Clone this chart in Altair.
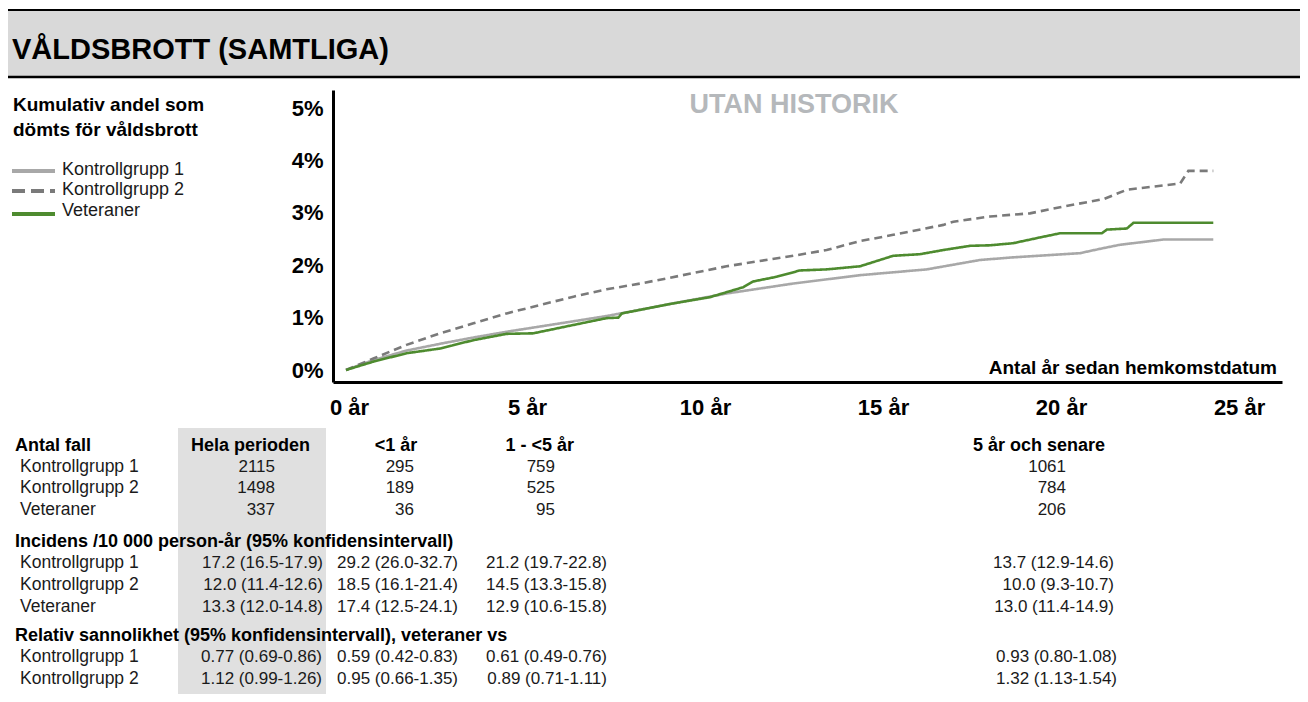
import altair as alt
import pandas as pd

# ---------------- data ----------------
groups = ["Kontrollgrupp 1", "Kontrollgrupp 2", "Veteraner"]
colors = ["#a8a8a8", "#7a7a7a", "#4e8b2f"]

k1_years = [0, 0.77, 1.70, 2.64, 3.58, 4.51, 5.45, 6.39, 7.32, 8.26, 9.1, 10.69, 12.56, 14.44, 16.31,
            17.81, 18.74, 20.62, 21.09, 21.74, 22.96, 24.36]
k1_pct = [0, 0.19, 0.37, 0.50, 0.62, 0.73, 0.83, 0.93, 1.03, 1.15, 1.26, 1.46, 1.65, 1.81, 1.92,
          2.10, 2.15, 2.23, 2.30, 2.39, 2.49, 2.49]

k2_years = [0, 0.77, 1.70, 2.64, 3.58, 4.51, 5.45, 6.39, 7.32, 8.26, 9.1, 10.69, 12.56, 13.5, 14.44,
            15.37, 16.78, 17.06, 18.09, 19.21, 20.15, 21.27, 21.93, 23.43, 23.66, 24.36]
k2_pct = [0, 0.22, 0.48, 0.70, 0.89, 1.08, 1.24, 1.40, 1.54, 1.65, 1.76, 1.98, 2.18, 2.29, 2.46,
          2.58, 2.77, 2.83, 2.93, 2.99, 3.12, 3.26, 3.44, 3.56, 3.80, 3.80]

vet_years = [0, 0.77, 1.70, 2.64, 3.58, 4.51, 5.26, 6.39, 7.32, 7.65, 7.75, 9.1, 10.22, 11.16, 11.44,
             12.1, 12.75, 13.5, 14.44, 15.37, 16.12, 16.78, 17.53, 18.09, 18.74, 19.49, 20.06, 21.23,
             21.37, 21.93, 22.12, 24.36]
vet_pct = [0, 0.16, 0.32, 0.41, 0.57, 0.69, 0.70, 0.86, 0.99, 1.00, 1.08, 1.26, 1.39, 1.58, 1.69,
           1.78, 1.90, 1.92, 1.98, 2.18, 2.21, 2.29, 2.37, 2.38, 2.42, 2.53, 2.61, 2.61,
           2.68, 2.70, 2.81, 2.81]

x_ticks = [0, 5, 10, 15, 20, 25]
y_ticks = [0, 1, 2, 3, 4, 5]

title_text = "VÅLDSBROTT (SAMTLIGA)"
subtitle_text = "UTAN HISTORIK"
x_title = "Antal år sedan hemkomstdatum"
legend_title = ["Kumulativ andel som", "dömts för våldsbrott"]

col_headers = ["Hela perioden", "<1 år", "1 - <5 år", "5 år och senare"]
section_titles = ["Antal fall",
                  "Incidens /10 000 person-år (95% konfidensintervall)",
                  "Relativ sannolikhet (95% konfidensintervall), veteraner vs"]
rows_counts = ["Kontrollgrupp 1", "Kontrollgrupp 2", "Veteraner"]
counts = [["2115", "295", "759", "1061"],
          ["1498", "189", "525", "784"],
          ["337", "36", "95", "206"]]
rows_inc = ["Kontrollgrupp 1", "Kontrollgrupp 2", "Veteraner"]
incidens = [["17.2 (16.5-17.9)", "29.2 (26.0-32.7)", "21.2 (19.7-22.8)", "13.7 (12.9-14.6)"],
            ["12.0 (11.4-12.6)", "18.5 (16.1-21.4)", "14.5 (13.3-15.8)", "10.0 (9.3-10.7)"],
            ["13.3 (12.0-14.8)", "17.4 (12.5-24.1)", "12.9 (10.6-15.8)", "13.0 (11.4-14.9)"]]
rows_rr = ["Kontrollgrupp 1", "Kontrollgrupp 2"]
relativ = [["0.77 (0.69-0.86)", "0.59 (0.42-0.83)", "0.61 (0.49-0.76)", "0.93 (0.80-1.08)"],
           ["1.12 (0.99-1.26)", "0.95 (0.66-1.35)", "0.89 (0.71-1.11)", "1.32 (1.13-1.54)"]]

# ---------------- layout (page pixels) ----------------
FONT = "Liberation Sans"
OX, OY = 333, 90          # plot origin on the page
W, H = 949, 292           # plot area
PAD = {"left": OX - 8, "top": OY - 8, "right": 1292 - (OX - 8) - W, "bottom": 686 - (OY - 8) - H}
X_DOM = [-0.365, 26.29]
Y_DOM = [-0.229, 5.344]


def one():
    return pd.DataFrame({"k": [0]})


def texts(items, **kw):
    df = pd.DataFrame(items, columns=["text", "px", "py"])
    df["x"] = df["px"] - OX
    df["y"] = df["py"] - OY
    params = dict(font=FONT, color="#000000")
    params.update(kw)
    return alt.Chart(df).mark_text(**params).encode(
        x=alt.X("x:Q", scale=None, axis=None),
        y=alt.Y("y:Q", scale=None, axis=None),
        text="text:N",
    )


def rect(x1, x2, y1, y2, color):
    return alt.Chart(one()).mark_rect(color=color).encode(
        x=alt.value(x1 - OX), x2=alt.value(x2 - OX),
        y=alt.value(y1 - OY), y2=alt.value(y2 - OY))


def hrule(x1, x2, y, color, width, dash=None):
    kw = dict(color=color, strokeWidth=width)
    if dash:
        kw["strokeDash"] = dash
    return alt.Chart(one()).mark_rule(**kw).encode(
        x=alt.value(x1 - OX), x2=alt.value(x2 - OX), y=alt.value(y - OY))


# ---------------- lines ----------------
frames = []
for g, xs, ys in [(groups[0], k1_years, k1_pct), (groups[1], k2_years, k2_pct), (groups[2], vet_years, vet_pct)]:
    frames.append(pd.DataFrame({"year": xs, "pct": ys, "group": g}))
df_lines = pd.concat(frames, ignore_index=True)

lines = alt.Chart(df_lines).mark_line(strokeWidth=2.6).encode(
    x=alt.X("year:Q", scale=alt.Scale(domain=X_DOM, nice=False, zero=False),
            axis=alt.Axis(values=x_ticks, labelExpr="datum.value + ' år'", title=None,
                          grid=False, ticks=False, tickSize=0, domainColor="#000000", domainWidth=3,
                          labelFont=FONT, labelFontSize=22, labelFontWeight="bold", labelColor="#000000",
                          labelPadding=15, labelOffset=3, labelFlush=False, labelOverlap=False)),
    y=alt.Y("pct:Q", scale=alt.Scale(domain=Y_DOM, nice=False, zero=False),
            axis=alt.Axis(values=y_ticks, labelExpr="datum.value + '%'", title=None,
                          grid=False, ticks=False, tickSize=0, domainColor="#000000", domainWidth=3,
                          labelFont=FONT, labelFontSize=22, labelFontWeight="bold", labelColor="#000000",
                          labelPadding=10, labelFlush=False, labelOverlap=False)),
    color=alt.Color("group:N", scale=alt.Scale(domain=groups, range=colors), legend=None),
    strokeDash=alt.StrokeDash("group:N", scale=alt.Scale(domain=groups, range=[[1, 0], [8, 5], [1, 0]]), legend=None),
)

# ---------------- header ----------------
header_band = rect(8, 1300, 10, 77, "#d9d9d9")
header_top = hrule(8, 1300, 10, "#000000", 2)
header_bot = hrule(8, 1300, 77, "#000000", 2.5)
title = texts([(title_text, 12, 59)], align="left", baseline="alphabetic", fontSize=29, fontWeight="bold")

subtitle = texts([(subtitle_text, 794, 113)], align="center", baseline="alphabetic",
                 fontSize=27, fontWeight="bold", color="#b5b8bb")
xtitle = texts([(x_title, 1277, 374)], align="right", baseline="alphabetic", fontSize=19, fontWeight="bold")

# ---------------- legend ----------------
leg_title = texts([(legend_title[0], 13, 111), (legend_title[1], 13, 136)],
                  align="left", baseline="alphabetic", fontSize=19, fontWeight="bold")
leg_y_lines = [171, 191, 214]
leg_y_text = [170, 190, 211]
leg_rules = [
    hrule(12, 55, leg_y_lines[0], colors[0], 4),
    hrule(12, 55, leg_y_lines[1], colors[1], 4, dash=[13, 6]),
    hrule(12, 55, leg_y_lines[2], colors[2], 4),
]
leg_labels = texts([(g, 62, y) for g, y in zip(groups, leg_y_text)],
                   align="left", baseline="middle", fontSize=18, color="#1a1a1a")

# ---------------- table ----------------
table_band = rect(178, 326, 428, 698, "#e0e0e0")
header_centers = [250.5, 396, 539.7, 1039]
right_counts = [275, 414, 555, 1066]
right_inc = [323, 458, 607, 1114]
right_rr = [322, 458, 607, 1117]
y_head = 445.7
y_counts = [466.7, 488.3, 510]
y_inc_title = 541.7
y_inc = [563.3, 585, 606.7]
y_rr_title = 635.7
y_rr = [657.3, 679]

bold_left = texts([(section_titles[0], 15, y_head), (section_titles[1], 15, y_inc_title),
                   (section_titles[2], 15, y_rr_title)],
                  align="left", baseline="middle", fontSize=18, fontWeight="bold")
bold_center = texts([(h, cx, y_head) for h, cx in zip(col_headers, header_centers)],
                    align="center", baseline="middle", fontSize=18, fontWeight="bold")

row_items = [(r, 20, y) for r, y in zip(rows_counts, y_counts)] + \
            [(r, 20, y) for r, y in zip(rows_inc, y_inc)] + \
            [(r, 20, y) for r, y in zip(rows_rr, y_rr)]
row_labels = texts(row_items, align="left", baseline="middle", fontSize=17.5, color="#1a1a1a")

val_items = []
for vals, y in zip(counts, y_counts):
    val_items += [(v, rx, y) for v, rx in zip(vals, right_counts)]
for vals, y in zip(incidens, y_inc):
    val_items += [(v, rx, y) for v, rx in zip(vals, right_inc)]
for vals, y in zip(relativ, y_rr):
    val_items += [(v, rx, y) for v, rx in zip(vals, right_rr)]
values = texts(val_items, align="right", baseline="middle", fontSize=17, color="#1a1a1a")

chart = alt.layer(
    header_band, header_top, header_bot, title,
    table_band,
    lines, subtitle, xtitle,
    leg_title, *leg_rules, leg_labels,
    bold_left, bold_center, row_labels, values,
).resolve_scale(x="independent", y="independent").properties(
    width=W, height=H,
    autosize=alt.AutoSizeParams(type="none"),
    padding=PAD,
    background="#ffffff",
).configure_view(stroke=None)

chart.save("out.html", embed_options={"renderer": "svg", "actions": False})
